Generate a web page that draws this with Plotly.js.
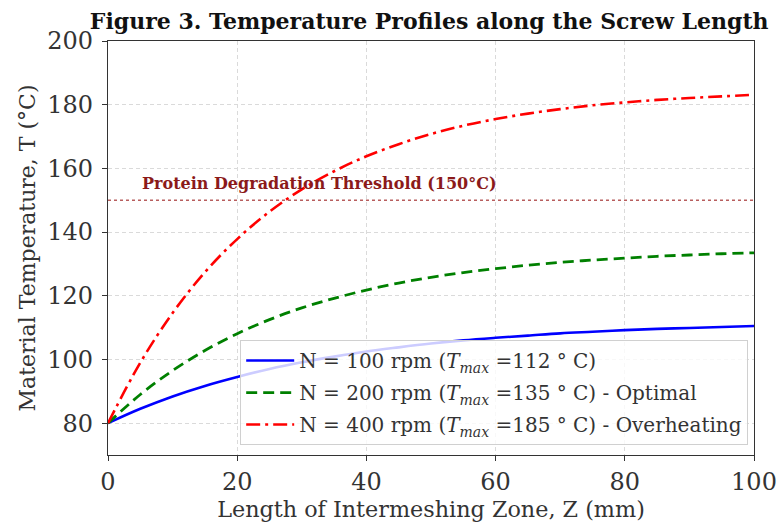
<!DOCTYPE html>
<html>
<head>
<meta charset="utf-8">
<script src="https://cdn.plot.ly/plotly-3.0.1.min.js"></script>
<style>html,body{margin:0;padding:0;background:#fff;}#chart{width:779px;height:522px;}</style>
</head>
<body>
<div id="chart"></div>
<script>
const zMM = [0, 5, 10, 15, 20, 25, 30, 35, 40, 45, 50, 55, 60, 65, 70, 75, 80, 85, 90, 95, 100];
const temp100 = [80, 84.5, 88.4, 91.7, 94.5, 97.0, 99.1, 100.9, 102.5, 103.8, 105.0, 106.0, 106.8, 107.5, 108.2, 108.7, 109.2, 109.6, 109.9, 110.2, 110.5];
const temp200 = [80, 89.0, 96.5, 102.8, 108.1, 112.5, 116.2, 119.2, 121.8, 124.0, 125.8, 127.3, 128.5, 129.6, 130.5, 131.2, 131.8, 132.4, 132.8, 133.2, 133.5];
const temp400 = [80, 99.0, 114.6, 127.4, 137.8, 146.4, 153.4, 159.1, 163.8, 167.6, 170.8, 173.4, 175.5, 177.2, 178.6, 179.8, 180.7, 181.5, 182.1, 182.6, 183.1];
const seriesNames = [
  'N = 100 rpm (<i>T</i><sub><i>max</i></sub> =112 ° C)',
  'N = 200 rpm (<i>T</i><sub><i>max</i></sub> =135 ° C) - Optimal',
  'N = 400 rpm (<i>T</i><sub><i>max</i></sub> =185 ° C) - Overheating'
];
const threshold = 150;
const thresholdLabel = 'Protein Degradation Threshold (150°C)';
const xTicks = [0, 20, 40, 60, 80, 100];
const yTicks = [80, 100, 120, 140, 160, 180, 200];

const serif = 'DejaVu Serif, serif';
const traces = [
  {x: zMM, y: temp100, name: seriesNames[0], legendgroup: 'a', mode: 'lines', line: {color: '#0000ff', width: 2.6, shape: 'spline'}},
  {x: zMM, y: temp200, name: seriesNames[1], legendgroup: 'b', mode: 'lines', line: {color: '#008000', width: 2.8, shape: 'spline', dash: '11px,6px'}},
  {x: zMM, y: temp400, name: seriesNames[2], legendgroup: 'c', mode: 'lines', line: {color: '#ff0000', width: 2.6, shape: 'spline', dash: '14px,5px,3px,5px'}}
];
const layout = {
  width: 779, height: 522,
  margin: {l: 108, r: 25, t: 41, b: 67},
  paper_bgcolor: '#fff', plot_bgcolor: '#fff',
  font: {family: serif, color: '#222'},
  title: {text: '<b>Figure 3. Temperature Profiles along the Screw Length</b>', font: {family: serif, size: 22, color: '#111'}, x: 0.551, xanchor: 'center', y: 0.96, yanchor: 'middle'},
  xaxis: {
    range: [0, 100], tickvals: xTicks, ticks: 'outside', ticklen: 5, tickcolor: '#333',
    showline: true, mirror: true, linecolor: '#333', linewidth: 1.2,
    showgrid: true, gridcolor: '#dadada', griddash: '4px,3px', gridwidth: 1, zeroline: false,
    tickfont: {family: serif, size: 24, color: '#333'},
    title: {text: 'Length of Intermeshing Zone, Z (mm)', font: {family: serif, size: 22.3, color: '#333'}, standoff: 3}
  },
  yaxis: {
    range: [70, 200], tickvals: yTicks, ticks: 'outside', ticklen: 5, tickcolor: '#333',
    showline: true, mirror: true, linecolor: '#333', linewidth: 1.2,
    showgrid: true, gridcolor: '#dadada', griddash: '4px,3px', gridwidth: 1, zeroline: false,
    tickfont: {family: serif, size: 24, color: '#333'}, ticklabelstandoff: 4,
    title: {text: 'Material Temperature, T (°C)', font: {family: serif, size: 22, color: '#333'}, standoff: 5}
  },
  shapes: [{type: 'line', xref: 'paper', x0: 0, x1: 1, yref: 'y', y0: threshold, y1: threshold, line: {color: 'rgba(160,40,40,0.75)', width: 1.4, dash: 'dot'}}],
  annotations: [{xref: 'x', yref: 'y', x: 5, y: threshold + 1.5, xanchor: 'left', yanchor: 'bottom', showarrow: false,
    text: '<b>' + thresholdLabel + '</b>', font: {family: serif, size: 16, color: '#8b1a1a'}}],
  legend: {x: 0.991, xanchor: 'right', y: 0.024, yanchor: 'bottom', bgcolor: 'rgba(255,255,255,0.8)', bordercolor: '#d0d0d0', borderwidth: 1,
    font: {family: serif, size: 20, color: '#333'}, itemwidth: 48, traceorder: 'grouped', tracegroupgap: 3},
  showlegend: true
};
Plotly.newPlot('chart', traces, layout, {displayModeBar: false, staticPlot: true});
</script>
</body>
</html>
